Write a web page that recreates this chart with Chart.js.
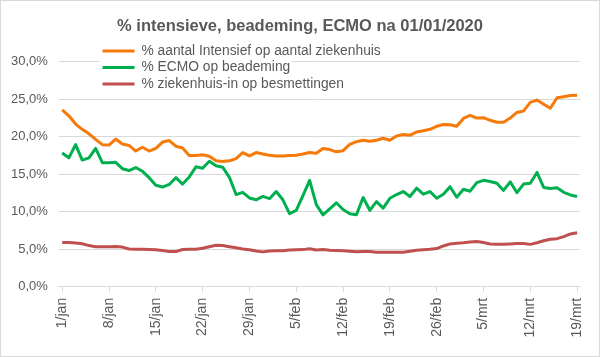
<!DOCTYPE html>
<html>
<head>
<meta charset="utf-8">
<script src="https://cdn.jsdelivr.net/npm/chart.js@4"></script>
<style>
  html, body { margin: 0; padding: 0; background: #ffffff; }
  #wrap { width: 600px; height: 357px; }
</style>
</head>
<body>
<div id="wrap"><canvas id="c" width="600" height="357"></canvas></div>
<script>
const categories = [
  "1/jan","2/jan","3/jan","4/jan","5/jan","6/jan","7/jan","8/jan","9/jan","10/jan",
  "11/jan","12/jan","13/jan","14/jan","15/jan","16/jan","17/jan","18/jan","19/jan","20/jan",
  "21/jan","22/jan","23/jan","24/jan","25/jan","26/jan","27/jan","28/jan","29/jan","30/jan","31/jan",
  "1/feb","2/feb","3/feb","4/feb","5/feb","6/feb","7/feb","8/feb","9/feb","10/feb",
  "11/feb","12/feb","13/feb","14/feb","15/feb","16/feb","17/feb","18/feb","19/feb","20/feb",
  "21/feb","22/feb","23/feb","24/feb","25/feb","26/feb","27/feb","28/feb",
  "1/mrt","2/mrt","3/mrt","4/mrt","5/mrt","6/mrt","7/mrt","8/mrt","9/mrt","10/mrt",
  "11/mrt","12/mrt","13/mrt","14/mrt","15/mrt","16/mrt","17/mrt","18/mrt","19/mrt"
];

const seriesNames = [
  "% aantal Intensief op aantal ziekenhuis",
  "% ECMO op beademing",
  "% ziekenhuis-in op besmettingen"
];

const intensiefOpZiekenhuis = [
  23.6, 22.8, 21.7, 21.0, 20.4, 19.65, 18.95, 18.9, 19.7, 19.05,
  18.85, 18.1, 18.6, 18.1, 18.45, 19.3, 19.5, 18.75, 18.5, 17.5,
  17.5, 17.6, 17.4, 16.8, 16.7, 16.8, 17.1, 17.9, 17.45, 17.9,
  17.7, 17.55, 17.45, 17.45, 17.5, 17.55, 17.7, 17.9, 17.8, 18.45,
  18.3, 18.0, 18.15, 19.0, 19.35, 19.55, 19.4, 19.55, 19.8, 19.55,
  20.1, 20.3, 20.2, 20.65, 20.8, 21.0, 21.4, 21.65, 21.6, 21.4,
  22.45, 22.85, 22.5, 22.55, 22.2, 21.95, 21.95, 22.5, 23.25, 23.45,
  24.6, 24.9, 24.35, 23.8, 25.2, 25.35, 25.5, 25.55
];

const ecmoOpBeademing = [
  17.85, 17.2, 18.95, 16.9, 17.2, 18.45, 16.55, 16.55, 16.6, 15.75,
  15.5, 15.9, 15.4, 14.55, 13.55, 13.3, 13.65, 14.55, 13.7, 14.65,
  16.0, 15.8, 16.75, 16.15, 15.95, 14.6, 12.3, 12.6, 11.85, 11.6,
  12.05, 11.75, 12.7, 11.6, 9.75, 10.2, 12.15, 14.2, 10.95, 9.6,
  10.4, 11.2, 10.3, 9.75, 9.6, 11.9, 10.2, 11.35, 10.5, 11.8,
  12.3, 12.7, 12.05, 13.15, 12.35, 12.7, 11.8, 12.35, 13.35, 11.95,
  13.0, 12.75, 13.9, 14.2, 14.05, 13.8, 12.85, 14.0, 12.55, 13.7,
  13.8, 15.25, 13.25, 13.1, 13.2, 12.6, 12.25, 12.05
];

const ziekenhuisOpBesmettingen = [
  5.92, 5.9, 5.85, 5.75, 5.5, 5.35, 5.35, 5.35, 5.38, 5.3,
  5.05, 5.02, 5.0, 4.97, 4.93, 4.84, 4.7, 4.7, 4.98, 5.0,
  5.0, 5.15, 5.35, 5.55, 5.5, 5.35, 5.2, 5.05, 4.95, 4.78,
  4.66, 4.78, 4.8, 4.82, 4.9, 4.95, 4.96, 5.08, 4.9, 4.98,
  4.88, 4.85, 4.82, 4.75, 4.67, 4.72, 4.72, 4.6, 4.6, 4.6,
  4.6, 4.6, 4.75, 4.87, 4.95, 5.0, 5.1, 5.45, 5.72, 5.82,
  5.88, 5.97, 6.05, 5.9, 5.72, 5.66, 5.66, 5.72, 5.79, 5.79,
  5.66, 5.88, 6.15, 6.35, 6.42, 6.7, 7.05, 7.2
];

const yTickValues = [0, 5, 10, 15, 20, 25, 30];
const titleText = "% intensieve, beademing, ECMO na 01/01/2020";

const FONT = "'Liberation Sans', Arial, sans-serif";
const TEXT = "#595959";
const GRID = "#d9d9d9";

const frame = {
  id: 'frame',
  beforeDraw(chart) {
    const ctx = chart.ctx;
    ctx.save();
    ctx.fillStyle = '#ffffff';
    ctx.fillRect(0, 0, chart.width, chart.height);
    ctx.strokeStyle = GRID;
    ctx.lineWidth = 1;
    ctx.strokeRect(0.5, 0.5, chart.width - 1, chart.height - 1);
    ctx.restore();
  }
};

const legendPlacer = {
  id: 'legendPlacer',
  afterLayout(chart) {
    const lg = chart.legend;
    const w = lg.width, h = lg.height;
    lg.left = chart.chartArea.left + 41;
    lg.top = chart.chartArea.top - 20.5;
    lg.right = lg.left + w;
    lg.bottom = lg.top + h;
  },
  afterDatasetsDraw(chart) {
    const lg = chart.legend;
    const hb = lg.legendHitBoxes || [];
    if (!hb.length) return;
    const ctx = chart.ctx;
    ctx.save();
    ctx.fillStyle = '#ffffff';
    hb.forEach((b) => {
      ctx.fillRect(lg.left, b.top - 1, b.left + b.width - lg.left + 2, b.height + 2);
    });
    ctx.restore();
    lg.draw(chart.chartArea);
  }
};

new Chart(document.getElementById('c'), {
  type: 'line',
  data: {
    labels: categories,
    datasets: [
      { label: seriesNames[0], data: intensiefOpZiekenhuis, borderColor: '#F57A0A', backgroundColor: '#F57A0A' },
      { label: seriesNames[1], data: ecmoOpBeademing, borderColor: '#00B050', backgroundColor: '#00B050' },
      { label: seriesNames[2], data: ziekenhuisOpBesmettingen, borderColor: '#C0504D', backgroundColor: '#C0504D' }
    ]
  },
  options: {
    responsive: false,
    animation: false,
    devicePixelRatio: 1,
    elements: {
      line: { borderWidth: 3, tension: 0, borderJoinStyle: 'round' },
      point: { radius: 0, hoverRadius: 0, borderWidth: 3 }
    },
    layout: { padding: { left: 0, right: 0, top: 0, bottom: 13.5 } },
    plugins: {
      title: {
        display: true,
        text: titleText,
        color: TEXT,
        font: { family: FONT, size: 16.5, weight: 'bold' },
        padding: { top: 17, bottom: 25 }
      },
      legend: {
        display: true,
        position: 'chartArea',
        align: 'start',
        labels: {
          color: TEXT,
          font: { family: FONT, size: 13.8 },
          usePointStyle: true,
          pointStyle: 'line',
          pointStyleWidth: 32,
          padding: 2.7
        }
      },
      tooltip: { enabled: false }
    },
    scales: {
      x: {
        type: 'category',
        offset: true,
        grid: {
          display: true,
          drawOnChartArea: false,
          drawTicks: true,
          tickLength: 5,
          tickColor: GRID,
          color: GRID
        },
        border: { display: true, color: GRID, width: 1 },
        afterBuildTicks(axis) {
          axis.ticks = axis.ticks.filter(t => t.value % 7 === 0);
        },
        ticks: {
          autoSkip: false,
          minRotation: 90,
          maxRotation: 90,
          padding: 6,
          color: TEXT,
          font: { family: FONT, size: 14 }
        }
      },
      y: {
        min: 0,
        max: 30,
        afterBuildTicks(axis) {
          axis.ticks = yTickValues.map(v => ({ value: v }));
        },
        grid: { color: GRID, lineWidth: 1, drawTicks: false },
        border: { display: false },
        ticks: {
          padding: 11,
          color: TEXT,
          font: { family: FONT, size: 13 },
          callback: (v) => v.toFixed(1).replace('.', ',') + '%'
        }
      },
      gutter: {
        type: 'linear',
        position: 'right',
        display: true,
        grid: { drawOnChartArea: false, drawTicks: false },
        border: { display: false },
        ticks: { display: false },
        afterFit(scale) {
          scale.width = 16;
        }
      }
    }
  },
  plugins: [frame, legendPlacer]
});
</script>
</body>
</html>
